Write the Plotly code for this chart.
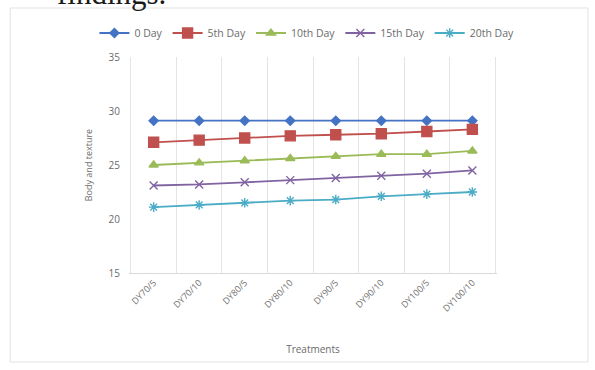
import plotly.graph_objects as go

# Treatment groups on the x axis
treatments = ["DY70/5", "DY70/10", "DY80/5", "DY80/10",
              "DY90/5", "DY90/10", "DY100/5", "DY100/10"]

# Body and texture scores by storage day
day0 = [29.1, 29.1, 29.1, 29.1, 29.1, 29.1, 29.1, 29.1]
day5 = [27.1, 27.3, 27.5, 27.7, 27.8, 27.9, 28.1, 28.3]
day10 = [25.0, 25.2, 25.4, 25.6, 25.8, 26.0, 26.0, 26.3]
day15 = [23.1, 23.2, 23.4, 23.6, 23.8, 24.0, 24.2, 24.5]
day20 = [21.1, 21.3, 21.5, 21.7, 21.8, 22.1, 22.3, 22.5]

series_names = ["0 Day", "5th Day", "10th Day", "15th Day", "20th Day"]
series_values = [day0, day5, day10, day15, day20]
colors = ["#4472C4", "#C0504D", "#9BBB59", "#8064A2", "#4BACC6"]
symbols = ["diamond", "square", "triangle-up", "x-thin-open", "asterisk-open"]
marker_sizes = [7, 10, 8, 8, 8]

fig = go.Figure()
for name, vals, col, sym, ms in zip(series_names, series_values, colors, symbols, marker_sizes):
    fig.add_trace(go.Scatter(
        x=treatments, y=vals, name=name, mode="lines+markers",
        line=dict(color=col, width=1.8),
        marker=dict(symbol=sym, size=ms, color=col,
                    line=dict(color=col, width=1.4)),
    ))

font_family = "Open Sans, Liberation Sans, sans-serif"
grey = "#6b6b6b"

fig.update_layout(
    width=595, height=370,
    margin=dict(l=129, r=98, t=57, b=97, autoexpand=False),
    paper_bgcolor="white", plot_bgcolor="white",
    font=dict(family=font_family, size=9, color=grey),
    showlegend=True,
    legend=dict(orientation="h", x=-0.094, xanchor="left",
                y=1.111, yanchor="middle",
                font=dict(size=10.5, color=grey), itemwidth=30,
                tracegroupgap=0),
    xaxis=dict(
        type="category", tickson="boundaries", showgrid=True,
        gridcolor="#e4e4e4", gridwidth=1, tickangle=-45,
        ticks="", showline=True, linecolor="#d9d9d9",
        tickfont=dict(size=9, color="#707070"),
        title=dict(text="Treatments", font=dict(size=10, color=grey), standoff=32),
        zeroline=False,
    ),
    yaxis=dict(
        range=[15, 35], dtick=5, showgrid=False, zeroline=False,
        showline=False, ticks="", ticklabelstandoff=8,
        tickfont=dict(size=10, color=grey),
        title=dict(text="Body and texture", font=dict(size=9, color=grey), standoff=14),
    ),
    shapes=[dict(type="rect", xref="paper", yref="paper",
                 x0=-0.323, x1=1.247, y0=-0.412, y1=1.227,
                 line=dict(color="#e3e3e3", width=1), fillcolor="rgba(0,0,0,0)",
                 layer="below")],
    annotations=[dict(text="findings.", xref="paper", yref="paper",
                      x=-0.201, y=1.225, xanchor="left", yanchor="bottom",
                      showarrow=False, yshift=-5,
                      font=dict(family="Liberation Serif, serif", size=31, color="#1a1a1a"))],
)

fig.write_html("out.html")
